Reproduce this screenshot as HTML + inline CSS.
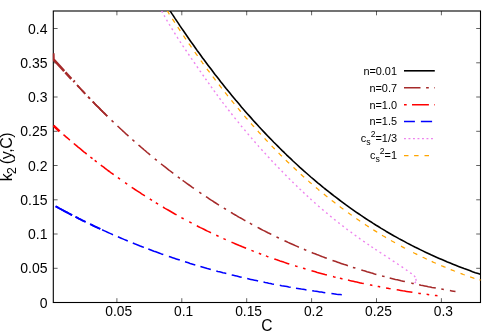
<!DOCTYPE html>
<html><head><meta charset="utf-8"><title>k2</title>
<style>
html,body{margin:0;padding:0;background:#fff;}
#w{position:relative;width:498px;height:332px;overflow:hidden;will-change:transform;font-family:"Liberation Sans",sans-serif;color:#000;}
.t{position:absolute;white-space:nowrap;line-height:16px;height:16px;}
.yt{font-size:14px;left:0;width:47.5px;text-align:right;}
.xt{font-size:13.8px;top:303.5px;width:60px;text-align:center;}
.lg{font-size:10.9px;left:300px;width:97px;text-align:right;line-height:14px;height:14px;}
.lg sub{font-size:8.7px;vertical-align:baseline;position:relative;top:3.1px;line-height:0;}
.lg sup{font-size:8.7px;vertical-align:baseline;position:relative;top:-5.0px;line-height:0;}
#xl{font-size:15.6px;left:237px;width:60px;text-align:center;top:318.0px;}
#yl{font-size:16px;left:-43.1px;top:149.3px;letter-spacing:-0.42px;width:100px;text-align:center;transform:rotate(-90deg);transform-origin:50% 50%;}
#yl sub{font-size:12.8px;vertical-align:baseline;position:relative;top:4.2px;line-height:0;margin-left:-0.6px;margin-right:3.4px;}
</style></head><body><div id="w">
<svg width="498" height="332" viewBox="0 0 498 332" style="position:absolute;left:0;top:0">
<defs><clipPath id="c"><rect x="52.8" y="11.0" width="428.2" height="291.5"/></clipPath></defs>
<path d="M53.3,268.3h4.3 M480.5,268.3h-4.3 M53.3,234.0h4.3 M480.5,234.0h-4.3 M53.3,199.8h4.3 M480.5,199.8h-4.3 M53.3,165.5h4.3 M480.5,165.5h-4.3 M53.3,131.3h4.3 M480.5,131.3h-4.3 M53.3,97.0h4.3 M480.5,97.0h-4.3 M53.3,62.8h4.3 M480.5,62.8h-4.3 M53.3,28.5h4.3 M480.5,28.5h-4.3 M116.9,302.5v-4.3 M116.9,11.0v4.3 M181.8,302.5v-4.3 M181.8,11.0v4.3 M246.7,302.5v-4.3 M246.7,11.0v4.3 M311.6,302.5v-4.3 M311.6,11.0v4.3 M376.5,302.5v-4.3 M376.5,11.0v4.3 M441.4,302.5v-4.3 M441.4,11.0v4.3" stroke="#000" stroke-width="0.62" fill="none"/>
<rect x="53.3" y="11.0" width="427.2" height="291.5" fill="none" stroke="#000" stroke-width="1.1"/>
<g clip-path="url(#c)" fill="none" stroke-linejoin="round">
<path d="M170.1,10.9 L171.7,13.4 L173.4,15.9 L175.0,18.4 L176.7,20.9 L178.4,23.4 L180.0,25.9 L181.7,28.4 L183.4,30.8 L185.1,33.3 L186.8,35.7 L188.5,38.2 L190.2,40.7 L191.9,43.1 L193.7,45.5 L195.4,48.0 L197.1,50.4 L198.9,52.8 L200.7,55.3 L202.4,57.7 L204.2,60.1 L206.0,62.5 L207.8,64.9 L209.6,67.3 L211.4,69.6 L213.2,72.0 L215.0,74.4 L216.9,76.8 L218.7,79.1 L220.5,81.5 L222.4,83.8 L224.3,86.2 L226.1,88.5 L228.0,90.8 L229.9,93.1 L231.8,95.4 L233.7,97.7 L235.6,100.0 L237.6,102.3 L239.5,104.6 L241.4,106.9 L243.4,109.2 L245.3,111.4 L247.3,113.7 L249.3,115.9 L251.3,118.1 L253.3,120.4 L255.3,122.6 L257.3,124.8 L259.3,127.0 L261.4,129.2 L263.4,131.4 L265.5,133.6 L267.5,135.7 L269.6,137.9 L271.7,140.0 L273.8,142.2 L275.9,144.3 L278.0,146.4 L280.1,148.5 L282.2,150.6 L284.4,152.7 L286.5,154.8 L288.7,156.9 L290.9,158.9 L293.0,161.0 L295.2,163.0 L297.4,165.0 L299.6,167.1 L301.9,169.1 L304.1,171.1 L306.3,173.0 L308.6,175.0 L310.8,177.0 L313.1,178.9 L315.4,180.8 L317.7,182.8 L320.0,184.7 L322.3,186.6 L324.6,188.5 L327.0,190.3 L329.3,192.2 L331.6,194.0 L334.0,195.9 L336.4,197.7 L338.8,199.5 L341.2,201.3 L343.6,203.1 L346.0,204.9 L348.4,206.6 L350.8,208.3 L353.3,210.1 L355.7,211.8 L358.2,213.5 L360.7,215.2 L363.2,216.8 L365.6,218.5 L368.1,220.1 L370.7,221.7 L373.2,223.4 L375.7,225.0 L378.3,226.5 L380.8,228.1 L383.4,229.6 L385.9,231.2 L388.5,232.7 L391.1,234.2 L393.7,235.7 L396.3,237.1 L398.9,238.6 L401.5,240.0 L404.2,241.4 L406.8,242.9 L409.5,244.2 L412.1,245.6 L414.8,247.0 L417.5,248.3 L420.2,249.6 L422.8,250.9 L425.5,252.2 L428.3,253.5 L431.0,254.8 L433.7,256.0 L436.4,257.2 L439.2,258.4 L441.9,259.6 L444.7,260.8 L447.4,262.0 L450.2,263.1 L452.9,264.2 L455.7,265.3 L458.5,266.4 L461.3,267.5 L464.1,268.6 L466.9,269.6 L469.7,270.6 L472.5,271.7 L475.3,272.7 L478.2,273.6 L481.0,274.6" stroke="#000" stroke-width="1.6"/>
<path d="M77.1,85.1 L78.5,86.6 L79.8,88.0 L81.2,89.5 L82.5,90.9 L83.9,92.4 L85.2,93.8 M88.1,96.8 L89.0,97.7 L89.9,98.7 M92.7,101.6 L94.0,102.9 L95.3,104.3 L96.6,105.6 L98.0,106.9 L99.3,108.2 L100.6,109.6 L101.9,110.9 L103.2,112.2 L104.6,113.5 L105.9,114.8 L107.3,116.1 M111.6,120.4 L112.6,121.3 L113.5,122.2 M117.5,126.0 L118.9,127.3 L120.2,128.5 L121.6,129.8 L123.0,131.1 L124.3,132.3 L125.7,133.6 L127.1,134.8 L128.5,136.1 M132.4,139.6 L133.4,140.5 L134.4,141.4 M138.5,145.0 L139.9,146.2 L141.4,147.5 L142.8,148.7 L144.3,150.0 L145.8,151.2 L147.2,152.5 L148.7,153.7 L150.2,155.0 M154.8,158.8 L155.8,159.6 L156.8,160.4 M161.0,163.8 L162.5,165.0 L164.0,166.2 L165.6,167.4 L167.1,168.6 L168.6,169.8 L170.2,171.0 L171.7,172.2 L173.3,173.3 M177.8,176.8 L178.9,177.6 L179.9,178.3 M182.6,180.3 L184.2,181.5 L185.8,182.7 L187.4,183.8 L189.1,185.0 L190.7,186.1 L192.3,187.3 L193.9,188.4 M199.3,192.1 L200.3,192.9 L201.4,193.6 M206.0,196.6 L207.6,197.7 L209.2,198.8 L210.8,199.9 L212.5,200.9 L214.1,202.0 L215.7,203.0 L217.4,204.1 L219.0,205.1 M223.8,208.1 L224.9,208.7 L226.0,209.4 M230.9,212.4 L232.5,213.3 L234.1,214.3 L235.7,215.2 L237.3,216.2 L238.9,217.1 L240.6,218.0 L242.2,218.9 L243.8,219.9 L245.4,220.8 M249.9,223.2 L251.0,223.9 L252.2,224.5 M257.6,227.4 L259.3,228.3 L261.0,229.2 L262.7,230.1 L264.4,230.9 L266.1,231.8 L267.9,232.7 L269.6,233.5 L271.3,234.4 M276.5,237.0 L277.7,237.5 L278.9,238.1 M284.5,240.7 L286.3,241.5 L288.1,242.4 L289.9,243.2 L291.7,244.0 L293.5,244.8 L295.3,245.6 L297.1,246.4 L298.9,247.2 M303.9,249.3 L305.0,249.8 L306.3,250.3 M311.7,252.5 L313.4,253.2 L315.1,253.8 L316.7,254.5 L318.4,255.1 L320.1,255.8 L321.7,256.4 L323.4,257.1 L325.1,257.7 L326.8,258.3 M332.5,260.4 L334.2,261.0 L335.9,261.6 L337.6,262.2 L339.3,262.8 L341.0,263.4 L342.7,264.0 L344.4,264.6 L346.2,265.1 L347.9,265.7 M352.9,267.4 L354.1,267.7 L355.4,268.1 M361.3,270.0 L363.2,270.6 L365.1,271.1 L367.0,271.7 L368.9,272.2 L370.7,272.8 L372.6,273.3 L374.5,273.9 L376.4,274.4 M382.1,275.9 L383.3,276.3 L384.6,276.6 M389.7,277.9 L391.6,278.4 L393.5,278.9 L395.4,279.4 L397.3,279.8 L399.2,280.3 L401.1,280.8 L403.0,281.2 L404.9,281.6 M411.3,283.1 L412.6,283.4 L413.8,283.6 M419.1,284.8 L420.9,285.2 L422.8,285.5 L424.6,285.9 L426.5,286.3 L428.3,286.7 L430.2,287.0 L432.0,287.4 L433.9,287.7 L435.8,288.1 M441.3,289.1 L442.6,289.3 L443.8,289.6 M449.9,290.6 L451.8,290.9 L453.6,291.2 L455.5,291.5" stroke="#a52a2a" stroke-width="1.55"/>
<path d="M63.5,134.6 L64.7,135.7 L66.0,136.8 L67.3,137.9 L68.6,139.0 L69.9,140.1 M73.8,143.5 L75.2,144.7 L76.7,145.9 L78.1,147.1 L79.5,148.2 L81.0,149.4 L82.4,150.6 L83.8,151.8 L85.3,152.9 L86.7,154.1 M90.4,157.1 L91.5,157.9 L92.5,158.7 M94.7,160.4 L95.7,161.2 L96.7,162.0 M100.8,165.1 L102.2,166.2 L103.7,167.2 L105.1,168.3 L106.5,169.4 L107.9,170.5 L109.4,171.5 L110.8,172.6 L112.3,173.6 L113.7,174.7 M117.9,177.7 L119.0,178.4 L120.0,179.2 M125.1,182.7 L126.1,183.4 L127.2,184.2 M131.7,187.3 L133.4,188.4 L135.0,189.5 L136.7,190.6 L138.3,191.6 L140.0,192.7 L141.6,193.8 L143.3,194.9 L144.9,195.9 M149.8,199.0 L150.9,199.7 L152.0,200.4 M155.8,202.8 L156.9,203.4 L158.1,204.1 M163.0,207.0 L164.6,208.1 L166.4,209.1 L168.1,210.0 L169.8,211.0 L171.5,212.0 L173.2,213.0 L174.9,214.0 L176.6,214.9 M181.4,217.6 L182.5,218.2 L183.7,218.8 M189.3,221.8 L190.4,222.4 L191.6,223.0 M196.8,225.8 L198.6,226.7 L200.4,227.6 L202.1,228.4 L203.9,229.3 L205.7,230.2 L207.5,231.1 L209.2,231.9 L211.0,232.8 M216.2,235.3 L217.4,235.8 L218.6,236.4 M223.4,238.6 L224.6,239.1 L225.8,239.6 M231.5,242.2 L233.3,242.9 L235.1,243.7 L236.9,244.5 L238.8,245.3 L240.6,246.0 L242.4,246.8 L244.2,247.5 L246.1,248.3 M251.4,250.4 L252.6,250.9 L253.8,251.4 M258.8,253.3 L260.0,253.7 L261.2,254.2 M265.9,255.9 L267.2,256.4 L268.4,256.8 M274.3,258.9 L276.2,259.6 L278.1,260.2 L279.9,260.9 L281.8,261.5 L283.7,262.1 L285.5,262.8 L287.4,263.4 L289.3,264.0 M295.1,265.8 L296.3,266.2 L297.6,266.6 M303.0,268.3 L304.3,268.6 L305.5,269.0 M311.5,270.8 L313.5,271.3 L315.4,271.8 L317.3,272.4 L319.2,272.9 L321.1,273.4 L323.0,273.9 L325.0,274.5 L326.9,275.0 M333.0,276.5 L334.3,276.9 L335.6,277.2 M339.9,278.3 L341.2,278.6 L342.5,278.9 M348.0,280.1 L349.7,280.6 L351.5,280.9 L353.3,281.3 L355.0,281.7 L356.8,282.1 L358.5,282.5 L360.3,282.9 L362.1,283.3 L363.8,283.6 M369.9,284.9 L371.1,285.1 L372.4,285.4 M377.7,286.4 L378.9,286.6 L380.2,286.9 M386.1,287.9 L387.6,288.2 L389.1,288.5 L390.6,288.7 M396.7,289.8 L398.7,290.1 L400.6,290.4 L402.6,290.8 L404.6,291.1 L406.5,291.4 L408.5,291.7 L410.5,292.0 L412.4,292.3 M418.3,293.2 L419.6,293.4 L420.9,293.5 M426.6,294.3 L427.9,294.5 L429.2,294.7 M434.9,295.5 L436.2,295.6 L437.5,295.8" stroke="#ff0000" stroke-width="1.55"/>
<path d="M55.6,206.3 L57.3,207.2 L58.9,208.1 L60.6,209.0 L62.2,209.9 L63.9,210.8 L65.5,211.7 L67.2,212.5 L68.8,213.4 L70.5,214.3 L72.1,215.2 M75.5,216.9 L77.2,217.7 L78.8,218.6 L80.5,219.4 L82.2,220.3 L83.9,221.1 L85.6,221.9 M90.1,224.1 L91.8,224.9 L93.5,225.8 L95.2,226.6 L96.9,227.4 L98.6,228.2 L100.3,228.9 M102.1,229.8 L103.9,230.6 L105.7,231.4 L107.5,232.3 L109.4,233.1 L111.2,233.9 L113.0,234.7 M117.9,236.8 L119.6,237.5 L121.2,238.2 L122.8,238.9 L124.5,239.6 L126.1,240.3 L127.8,241.0 M132.8,243.0 L134.6,243.8 L136.5,244.5 L138.3,245.2 L140.2,246.0 L142.1,246.7 L143.9,247.4 M148.3,249.1 L150.2,249.8 L152.1,250.5 L153.9,251.2 L155.8,251.8 L157.7,252.5 L159.6,253.2 L161.4,253.9 L163.3,254.5 M168.9,256.5 L170.7,257.1 L172.5,257.7 L174.3,258.3 L176.2,258.9 L178.0,259.5 L179.8,260.1 M185.0,261.8 L186.7,262.3 L188.4,262.8 L190.1,263.4 L191.8,263.9 L193.5,264.4 L195.3,264.9 M200.4,266.5 L202.2,267.0 L203.9,267.5 L205.6,268.0 L207.3,268.5 L209.1,268.9 L210.8,269.4 M216.3,270.9 L217.9,271.4 L219.6,271.8 L221.3,272.2 L222.9,272.7 L224.6,273.1 L226.3,273.5 M231.7,274.9 L233.4,275.3 L235.1,275.7 L236.7,276.1 L238.4,276.5 L240.0,276.9 L241.7,277.3 M247.2,278.6 L249.0,279.0 L250.8,279.4 L252.6,279.8 L254.5,280.2 L256.3,280.6 L258.1,281.0 M263.5,282.1 L265.2,282.5 L267.0,282.8 L268.7,283.2 L270.5,283.5 L272.2,283.9 L274.0,284.2 M279.8,285.3 L281.6,285.7 L283.4,286.0 L285.2,286.3 L287.0,286.6 L288.8,287.0 L290.7,287.3 M296.0,288.2 L297.8,288.5 L299.5,288.8 L301.3,289.1 L303.0,289.3 L304.7,289.6 L306.5,289.9 M312.2,290.8 L314.1,291.1 L316.0,291.3 L317.8,291.6 L319.7,291.9 L321.6,292.1 L323.4,292.4 L325.3,292.7 M331.4,293.5 L333.2,293.7 L334.9,293.9 L336.6,294.2 L338.3,294.4 L340.1,294.6 L341.8,294.8" stroke="#0000ff" stroke-width="1.55"/>
<path d="M161.7,11.0 L162.0,11.6 L162.3,12.2 L162.6,12.7 M164.1,15.4 L164.4,15.9 L164.7,16.5 L165.0,17.0 M166.6,19.7 L166.9,20.3 L167.2,20.8 L167.5,21.4 M169.1,24.1 L169.4,24.6 L169.8,25.2 L170.1,25.7 M171.7,28.4 L172.1,29.0 L172.4,29.5 L172.7,30.1 M174.4,32.8 L174.8,33.3 L175.1,33.8 L175.4,34.4 M177.1,37.0 L177.5,37.6 L177.8,38.1 L178.2,38.6 M179.9,41.3 L180.2,41.8 L180.6,42.4 L180.9,42.9 M182.7,45.5 L183.0,46.1 L183.4,46.6 L183.7,47.1 M185.5,49.7 L185.8,50.3 L186.2,50.8 L186.6,51.3 M188.3,53.9 L188.7,54.4 L189.0,55.0 L189.4,55.5 M191.2,58.1 L191.5,58.6 L191.9,59.1 L192.2,59.7 M194.0,62.3 L194.4,62.8 L194.8,63.3 L195.1,63.8 M196.9,66.4 L197.3,67.0 L197.6,67.5 L198.0,68.0 M199.8,70.6 L200.1,71.1 L200.5,71.6 L200.9,72.2 M202.7,74.7 L203.0,75.3 L203.4,75.8 L203.8,76.3 M205.4,78.7 L205.8,79.2 L206.2,79.7 L206.5,80.2 M208.2,82.6 L208.6,83.1 L209.0,83.7 L209.3,84.2 M211.0,86.5 L211.4,87.1 L211.8,87.6 L212.1,88.1 M213.9,90.5 L214.2,91.0 L214.6,91.5 L215.0,92.0 M216.7,94.3 L217.1,94.9 L217.4,95.4 L217.8,95.9 M219.6,98.2 L219.9,98.7 L220.3,99.2 L220.7,99.7 M222.5,102.1 L222.8,102.6 L223.2,103.1 L223.6,103.6 M225.4,105.9 L225.8,106.4 L226.1,106.9 L226.5,107.4 M228.3,109.7 L228.7,110.2 L229.1,110.7 L229.5,111.2 M231.3,113.5 L231.7,114.0 L232.1,114.5 L232.5,115.0 M234.5,117.6 L234.9,118.1 L235.3,118.6 L235.7,119.1 M237.8,121.6 L238.2,122.1 L238.6,122.6 L239.0,123.1 M241.0,125.7 L241.4,126.2 L241.8,126.6 L242.2,127.1 M244.3,129.7 L244.8,130.1 L245.2,130.6 L245.6,131.1 M247.7,133.6 L248.1,134.1 L248.5,134.6 L248.9,135.1 M251.1,137.6 L251.5,138.1 L251.9,138.5 L252.3,139.0 M254.4,141.5 L254.9,142.0 L255.3,142.5 L255.7,142.9 M257.9,145.4 L258.3,145.9 L258.7,146.4 L259.1,146.8 M261.3,149.3 L261.7,149.7 L262.2,150.2 L262.6,150.7 M264.6,153.0 L265.1,153.4 L265.5,153.9 L265.9,154.4 M268.0,156.6 L268.4,157.1 L268.9,157.5 L269.3,158.0 M271.4,160.2 L271.8,160.7 L272.2,161.2 L272.7,161.6 M274.8,163.8 L275.2,164.3 L275.6,164.8 L276.1,165.2 M278.2,167.4 L278.6,167.9 L279.1,168.3 L279.5,168.8 M281.6,171.0 L282.1,171.4 L282.5,171.9 L283.0,172.3 M285.2,174.6 L285.6,175.1 L286.1,175.5 L286.5,176.0 M288.8,178.2 L289.2,178.7 L289.7,179.1 L290.1,179.6 M292.4,181.8 L292.8,182.2 L293.3,182.7 L293.7,183.1 M296.0,185.4 L296.5,185.8 L296.9,186.2 L297.4,186.7 M299.6,188.8 L300.0,189.2 L300.5,189.6 L300.9,190.1 M303.1,192.1 L303.6,192.6 L304.1,193.0 L304.5,193.4 M306.7,195.5 L307.2,195.9 L307.6,196.3 L308.1,196.8 M310.3,198.8 L310.8,199.2 L311.3,199.7 L311.7,200.1 M314.2,202.3 L314.7,202.7 L315.2,203.2 L315.6,203.6 M318.2,205.8 L318.6,206.2 L319.1,206.6 L319.6,207.0 M322.1,209.2 L322.6,209.6 L323.1,210.1 L323.6,210.5 M326.1,212.6 L326.6,213.0 L327.1,213.4 L327.6,213.8 M330.1,216.0 L330.6,216.4 L331.1,216.8 L331.6,217.2 M334.1,219.2 L334.6,219.6 L335.1,220.0 L335.6,220.4 M338.2,222.5 L338.7,222.9 L339.2,223.2 L339.7,223.6 M342.3,225.7 L342.8,226.0 L343.3,226.4 L343.8,226.8 M346.4,228.8 L346.9,229.2 L347.4,229.6 L347.9,229.9 M350.6,231.9 L351.1,232.3 L351.6,232.7 L352.1,233.0 M354.7,235.0 L355.3,235.4 L355.8,235.7 L356.3,236.1 M359.0,238.0 L359.5,238.4 L360.0,238.8 L360.5,239.1 M363.2,241.0 L363.7,241.4 L364.2,241.7 L364.8,242.1 M367.5,244.0 L368.0,244.3 L368.5,244.7 L369.0,245.0 M371.4,246.6 L371.9,247.0 L372.4,247.3 L372.9,247.7 M375.3,249.2 L375.8,249.6 L376.3,249.9 L376.8,250.3 M379.6,252.1 L380.2,252.5 L380.7,252.8 L381.2,253.2 M384.0,255.0 L384.5,255.3 L385.1,255.7 L385.6,256.0 M388.4,257.9 L388.9,258.2 L389.4,258.5 L390.0,258.9 M392.8,260.7 L393.3,261.1 L393.8,261.4 L394.4,261.8 M397.1,263.6 L397.7,264.0 L398.2,264.3 L398.7,264.7 M401.5,266.6 L402.0,266.9 L402.6,267.3 L403.1,267.7 M405.9,269.6 L406.4,270.0 L406.9,270.3 L407.4,270.7 M410.2,272.7 L410.7,273.1 L411.2,273.4 L411.7,273.8 M414.1,275.6 L415.2,277.1 M415.9,278.9 L416.1,280.8 M415.8,281.6 L414.8,283.2" stroke="#ee82ee" stroke-width="1.4"/>
<path d="M166.9,10.4 L167.8,11.7 L168.6,13.0 L169.4,14.3 M172.4,18.9 L173.2,20.2 L174.0,21.4 L174.9,22.7 M177.8,27.1 L178.6,28.4 L179.5,29.7 L180.3,31.0 M183.4,35.6 L184.3,36.8 L185.1,38.1 L186.0,39.4 M188.8,43.5 L189.7,44.7 L190.6,46.0 L191.5,47.3 M194.8,52.0 L195.7,53.3 L196.6,54.5 L197.5,55.8 M200.8,60.5 L201.7,61.7 L202.6,63.0 L203.5,64.2 M206.9,68.8 L207.8,70.0 L208.7,71.2 L209.6,72.4 M212.8,76.7 L213.8,77.9 L214.7,79.1 L215.6,80.4 M219.0,84.7 L219.9,85.9 L220.9,87.2 L221.8,88.4 M225.0,92.4 L226.0,93.6 L227.0,94.8 L227.9,96.0 M231.4,100.4 L232.4,101.5 L233.3,102.7 L234.3,103.9 M237.9,108.2 L238.9,109.4 L239.8,110.5 L240.8,111.7 M244.4,115.9 L245.4,117.1 L246.4,118.3 L247.5,119.4 M251.0,123.5 L252.0,124.6 L253.0,125.8 L254.1,126.9 M257.8,131.0 L258.8,132.2 L259.9,133.3 L260.9,134.4 M264.6,138.4 L265.6,139.5 L266.7,140.6 L267.7,141.7 M271.6,145.8 L272.6,146.9 L273.7,148.0 L274.8,149.1 M278.6,153.0 L279.7,154.1 L280.8,155.2 L281.9,156.2 M285.8,160.1 L286.9,161.2 L288.0,162.3 L289.2,163.3 M293.5,167.4 L294.6,168.5 L295.7,169.5 L296.8,170.5 M300.8,174.2 L301.9,175.2 L303.0,176.2 L304.2,177.2 M308.3,180.9 L309.4,181.9 L310.6,182.9 L311.7,183.9 M315.9,187.4 L317.1,188.4 L318.2,189.4 L319.4,190.4 M323.8,194.0 L325.0,195.0 L326.2,196.0 L327.4,196.9 M331.7,200.4 L332.9,201.3 L334.2,202.3 L335.4,203.2 M339.7,206.5 L340.9,207.4 L342.1,208.3 L343.4,209.2 M348.0,212.7 L349.3,213.5 L350.5,214.4 L351.8,215.3 M356.4,218.6 L357.6,219.4 L358.9,220.3 L360.2,221.2 M364.9,224.4 L366.2,225.2 L367.5,226.1 L368.8,226.9 M373.3,229.8 L374.6,230.6 L375.9,231.4 L377.2,232.2 M382.0,235.2 L383.3,236.0 L384.7,236.8 L386.0,237.6 M391.0,240.5 L392.3,241.3 L393.7,242.0 L395.0,242.8 M401.0,246.1 L402.4,246.9 L403.7,247.6 L405.1,248.3 M413.1,252.5 L414.5,253.2 L415.9,253.9 L417.3,254.6 M422.6,257.2 L424.0,257.8 L425.4,258.5 L426.8,259.2 M431.7,261.4 L433.1,262.1 L434.5,262.7 L435.9,263.3 M441.2,265.6 L442.6,266.2 L444.1,266.8 L445.5,267.4 M450.7,269.6 L452.2,270.2 L453.6,270.7 L455.0,271.3 M460.5,273.4 L461.9,273.9 L463.3,274.5 L464.8,275.0 M470.1,276.9 L471.5,277.4 L473.0,277.9 L474.4,278.5 M479.4,279.75 L480.7,280.15" stroke="#ffa500" stroke-width="1.25"/>
<path d="M53.3,53.4 L53.5,59.5 L57.2,63.4 L62,68.7 L64.2,71.2 M65.4,72.3 L68.1,75.3 L71.3,78.9 M73.4,80.7 L74.7,81.9" stroke="#a52a2a" stroke-width="2.6"/>
<path d="M53.5,125.5 L54.3,126.4 L59.6,131.4" stroke="#ff0000" stroke-width="2.6"/>
<path d="M77.1,85.1 L78.5,86.6 L79.8,88.0 L81.2,89.5 L82.5,90.9 L83.9,92.4 L85.2,93.8 M88.1,96.8 L89.0,97.7 L89.9,98.7 M92.7,101.6 L94.0,102.9 L95.3,104.3 L96.6,105.6 L98.0,106.9 L99.3,108.2 L100.6,109.6 L101.9,110.9 L103.2,112.2 L104.6,113.5 L105.9,114.8 L107.3,116.1" stroke="#a52a2a" stroke-width="1.8"/>
<path d="M55.6,206.3 L57.3,207.2 L58.9,208.1 L60.6,209.0 L62.2,209.9 L63.9,210.8 L65.5,211.7 L67.2,212.5 L68.8,213.4 L70.5,214.3 L72.1,215.2 M75.5,216.9 L77.2,217.7 L78.8,218.6 L80.5,219.4 L82.2,220.3 L83.9,221.1 L85.6,221.9 M90.1,224.1 L91.8,224.9 L93.5,225.8 L95.2,226.6 L96.9,227.4 L98.6,228.2 L100.3,228.9" stroke="#0000ff" stroke-width="1.95"/>
</g>
<path d="M404.0,70.8h30.8" stroke="#000" stroke-width="1.6" fill="none"/>
<path d="M404.0,87.8h16.5 M426.1,87.8h2.7 M434.3,87.8h0.6" stroke="#a52a2a" stroke-width="1.55" fill="none"/>
<path d="M404.0,104.7h2.7 M412.0,104.7h16.9 M434.2,104.7h0.6" stroke="#ff0000" stroke-width="1.55" fill="none"/>
<path d="M404.0,121.5h10.9 M420.9,121.5h11.2" stroke="#0000ff" stroke-width="1.55" fill="none"/>
<path d="M404.0,138.6h1.9 M408.5,138.6h1.9 M413.0,138.6h1.9 M417.5,138.6h1.9 M422.0,138.6h1.9 M426.5,138.6h1.9 M431.0,138.6h1.9" stroke="#ee82ee" stroke-width="1.4" fill="none"/>
<path d="M404.0,155.5h4.5 M414.1,155.5h4.5 M424.5,155.5h4.5" stroke="#ffa500" stroke-width="1.25" fill="none"/>
</svg>
<div class="t yt" style="top:294.5px">0</div>
<div class="t yt" style="top:260.3px">0.05</div>
<div class="t yt" style="top:226.0px">0.1</div>
<div class="t yt" style="top:191.8px">0.15</div>
<div class="t yt" style="top:157.5px">0.2</div>
<div class="t yt" style="top:123.3px">0.25</div>
<div class="t yt" style="top:89.0px">0.3</div>
<div class="t yt" style="top:54.8px">0.35</div>
<div class="t yt" style="top:20.5px">0.4</div>
<div class="t xt" style="left:88.8px">0.05</div>
<div class="t xt" style="left:153.7px">0.1</div>
<div class="t xt" style="left:218.6px">0.15</div>
<div class="t xt" style="left:283.5px">0.2</div>
<div class="t xt" style="left:348.4px">0.25</div>
<div class="t xt" style="left:413.3px">0.3</div>
<div class="t lg" style="top:64px">n=0.01</div>
<div class="t lg" style="top:81px">n=0.7</div>
<div class="t lg" style="top:98px">n=1.0</div>
<div class="t lg" style="top:114px">n=1.5</div>
<div class="t lg" style="top:131px">c<sub>s</sub><sup>2</sup>=1/3</div>
<div class="t lg" style="top:148px">c<sub>s</sub><sup>2</sup>=1</div>
<div class="t" id="xl">C</div>
<div class="t" id="yl">k<sub>2</sub>(y,C)</div>
</div></body></html>
